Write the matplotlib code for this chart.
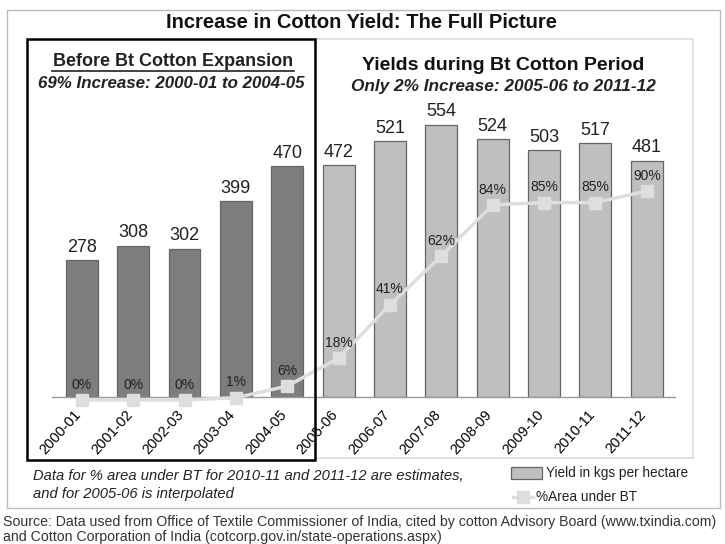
import matplotlib
matplotlib.use("Agg")
import matplotlib.pyplot as plt
from matplotlib.patches import Rectangle
from matplotlib.lines import Line2D
from matplotlib.transforms import ScaledTranslation

years = ["2000-01", "2001-02", "2002-03", "2003-04", "2004-05", "2005-06",
         "2006-07", "2007-08", "2008-09", "2009-10", "2010-11", "2011-12"]
yield_kg = [278, 308, 302, 399, 470, 472, 521, 554, 524, 503, 517, 481]
bt_area = [0, 0, 0, 1, 6, 18, 41, 62, 84, 85, 85, 90]

plt.rcParams['font.family'] = ['Liberation Sans', 'DejaVu Sans']

W, H = 725, 544
fig = plt.figure(figsize=(W / 100, H / 100), dpi=100)
fig.patch.set_facecolor('white')

def fx(px):
    return px / W

def fy(py):
    return 1 - py / H

def rect(x0, y0, x1, y1, **kw):
    fig.add_artist(Rectangle((fx(x0), fy(y1)), (x1 - x0) / W, (y1 - y0) / H,
                             transform=fig.transFigure, **kw))

# frames
rect(7, 10, 720, 508, fill=False, edgecolor='#bbbbbb', lw=1.0)
rect(315, 39, 693, 458, fill=False, edgecolor='#dddddd', lw=1.2)
rect(27, 39, 315, 460, fill=False, edgecolor='black', lw=1.8)

ax_left, ax_right = 52, 675
ax_bot, ax_top = 397, 102
ax = fig.add_axes([fx(ax_left), fy(ax_bot), (ax_right - ax_left) / W, (ax_bot - ax_top) / H])
ax.set_facecolor('none')

x = list(range(len(years)))
colors = ['#7d7d7d'] * 5 + ['#bfbfc2'] * 7
ax.bar(x, yield_kg, width=0.62, color=colors, edgecolor='#666666', linewidth=0.9, zorder=2)
for xi, v in zip(x, yield_kg):
    ax.annotate(str(v), (xi, v), xytext=(0, 3), textcoords='offset points',
                ha='center', va='bottom', fontsize=13, color='#222222')
ax.set_xlim(-0.58, 11.55)
ax.set_ylim(0, 600)
ax.set_yticks([])
for s in ['top', 'right', 'left']:
    ax.spines[s].set_visible(False)
ax.spines['bottom'].set_color('#999999')
ax.spines['bottom'].set_linewidth(1.0)
ax.set_xticks(x)
ax.set_xticklabels(years, rotation=48, ha='right', va='center', rotation_mode='anchor',
                   fontsize=10.5)
ax.tick_params(axis='x', length=0, pad=11)
shift = ScaledTranslation(-3 / 100, 0, fig.dpi_scale_trans)
for lab in ax.get_xticklabels():
    lab.set_transform(lab.get_transform() + shift)

ax2 = ax.twinx()
ax2.set_ylim(1.3, 128.3)
ax2.plot(x, bt_area, color='#dedede', lw=2.5, marker='s', markersize=9,
         markerfacecolor='#dedede', markeredgecolor='#dedede', zorder=3, clip_on=False)
for xi, v in zip(x, bt_area):
    ax2.annotate(f"{v}%", (xi, v), xytext=(0, 6), textcoords='offset points',
                 ha='center', va='bottom', fontsize=10, color='#222222',
                 annotation_clip=False)
ax2.set_yticks([])
for s in ['top', 'right', 'left', 'bottom']:
    ax2.spines[s].set_visible(False)

# titles
fig.text(fx(362), fy(23), "Increase in Cotton Yield: The Full Picture", ha='center', va='center',
         fontsize=14.5, fontweight='bold', color='#111111')
fig.text(fx(173), fy(62), "Before Bt Cotton Expansion", ha='center', va='center',
         fontsize=13, fontweight='bold', color='#222222')
fig.add_artist(Line2D([fx(52), fx(294)], [fy(71), fy(71)], transform=fig.transFigure,
                      color='#222222', lw=1.2))
fig.text(fx(171), fy(83), "69% Increase: 2000-01 to 2004-05", ha='center', va='center',
         fontsize=12.2, fontweight='bold', style='italic', color='#222222')
fig.text(fx(503), fy(65), "Yields during Bt Cotton Period", ha='center', va='center',
         fontsize=14, fontweight='bold', color='#111111')
fig.text(fx(503), fy(87), "Only 2% Increase: 2005-06 to 2011-12", ha='center', va='center',
         fontsize=12.4, fontweight='bold', style='italic', color='#222222')

# footnote
fig.text(fx(33), fy(476), "Data for % area under BT for 2010-11 and 2011-12 are estimates,",
         ha='left', va='center', fontsize=10.6, style='italic', color='#222222')
fig.text(fx(33), fy(494), "and for 2005-06 is interpolated",
         ha='left', va='center', fontsize=10.6, style='italic', color='#222222')

# legend
rect(511, 467, 542, 479, facecolor='#bfbfc2', edgecolor='#666666', lw=0.9)
fig.text(fx(546), fy(473), "Yield in kgs per hectare", ha='left', va='center',
         fontsize=9.8, color='#222222')
fig.add_artist(Line2D([fx(513), fx(533)], [fy(497), fy(497)], transform=fig.transFigure,
                      color='#dedede', lw=2.5))
fig.add_artist(Line2D([fx(523)], [fy(497)], transform=fig.transFigure, marker='s',
                      markersize=9, color='#dedede'))
fig.text(fx(536), fy(497), "%Area under BT", ha='left', va='center',
         fontsize=9.8, color='#222222')

# source
fig.text(fx(3), fy(522), "Source: Data used from Office of Textile Commissioner of India, cited by cotton Advisory Board (www.txindia.com)",
         ha='left', va='center', fontsize=10.2, color='#333333')
fig.text(fx(3), fy(537), "and Cotton Corporation of India (cotcorp.gov.in/state-operations.aspx)",
         ha='left', va='center', fontsize=10.2, color='#333333')

fig.savefig("out.png", dpi=100, facecolor='white')
